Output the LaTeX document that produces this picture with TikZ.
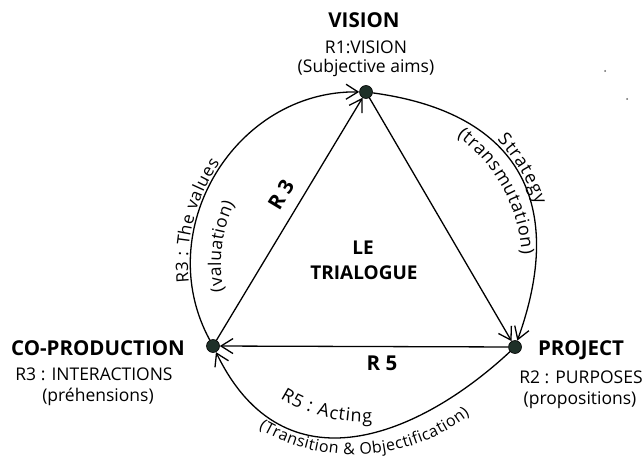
\documentclass[tikz,border=0pt]{standalone}
\usepackage{fontspec}
\setmainfont{Open Sans}
\usetikzlibrary{arrows.meta,decorations.text,positioning}
\definecolor{poledark}{RGB}{30,48,40}
\newcommand\titlefont{\fontsize{20.5}{24}\selectfont\bfseries}
\newcommand\subfont{\fontsize{17.5}{20}\selectfont}
\newcommand\arcfont[1]{\fontsize{#1}{21}\selectfont}
\begin{document}
\begin{tikzpicture}[x=1pt,y=1pt,
  pole/.style={circle,draw=black,fill=poledark,line width=0.6pt,minimum size=13pt,inner sep=0pt},
  link/.style={line width=1.3pt,-{Straight Barb[length=12pt,width=15pt]}},
  title/.style={font=\titlefont,inner sep=0pt},
  sub/.style={font=\subfont,inner sep=0pt},
  along/.style={decorate,decoration={text along path,text align={fit to path}}}]
  \useasboundingbox (0,0) rectangle (644,461);
  \coordinate (O) at (364,197);
  \coordinate (O2) at (354,194.3);
  % the three poles
  \node[pole] (V) at (366,369) {};
  \node[pole] (C) at (213,115) {};
  \node[pole] (P) at (515,114) {};
  % outer circle
  \draw[link] (C) .. controls (150.3,230.4) and (234.7,370.6) .. (V);
  \draw[link] (V) .. controls (522,348) and (566,255) .. (P);
  \draw[link] (P) .. controls (419.7,25.3) and (284.4,-32.3) .. (C);
  % inner triangle
  \draw[link] (C) -- (V);
  \draw[link] (V) -- (P);
  \draw[link] (P) -- (C);
  \node[title,rotate=59] (r3) at (281,266) {R 3};
  \node[title] (r5) at (382,98) {R 5};
  \node[title,font=\fontsize{19}{22}\selectfont\bfseries] (le) at (363,213) {LE};
  \node[title,font=\fontsize{19}{22}\selectfont\bfseries] (trialogue) at (364,188.5) {TRIALOGUE};
  % labels of the poles
  \node[title] (visionT) at (364,441) {VISION};
  \node[sub] (visionR) at (366,414) {R1:VISION};
  \node[sub] (visionS) at (366,393) {(Subjective aims)};
  \node[title] (coprodT) at (98,113) {CO-PRODUCTION};
  \node[sub] (coprodR) at (94,87) {R3 : INTERACTIONS};
  \node[sub] (coprodS) at (98,64) {(préhensions)};
  \node[title] (projectT) at (581,111) {PROJECT};
  \node[sub] (projectR) at (581,84) {R2 : PURPOSES};
  \node[sub] (projectS) at (580,61) {(propositions)};
  % texts along the arcs
  \path[along,decoration={text={|\arcfont{17}|R3 : The values}}]
    ([shift={(186:176)}]O) arc[start angle=186,end angle=145,radius=176];
  \path[along,decoration={text={|\arcfont{17.5}|(valuation)}}]
    ([shift={(191:143)}]O) arc[start angle=191,end angle=155,radius=143];
  \path[along,decoration={text={|\arcfont{18}|Strategy}}]
    ([shift={(43:182)}]O) arc[start angle=43,end angle=19,radius=182];
  \path[along,decoration={text={|\arcfont{18}|(transmutation)}}]
    ([shift={(54:158)}]O) arc[start angle=54,end angle=3.5,radius=158];
  \path[along,decoration={text={|\arcfont{18}|R5 : Acting}}]
    ([shift={(238:158)}]O) arc[start angle=238,end angle=273,radius=158];
  \path[along,decoration={text={|\arcfont{16}|(Transition {\&} Objectification)}}]
    ([shift={(239.5:188)}]O2) arc[start angle=239.5,end angle=308,radius=188];
  % specks
  \fill[black!60] (605,390) circle (1);
  \fill[black!60] (627,362) circle (1);
\end{tikzpicture}
\end{document}
